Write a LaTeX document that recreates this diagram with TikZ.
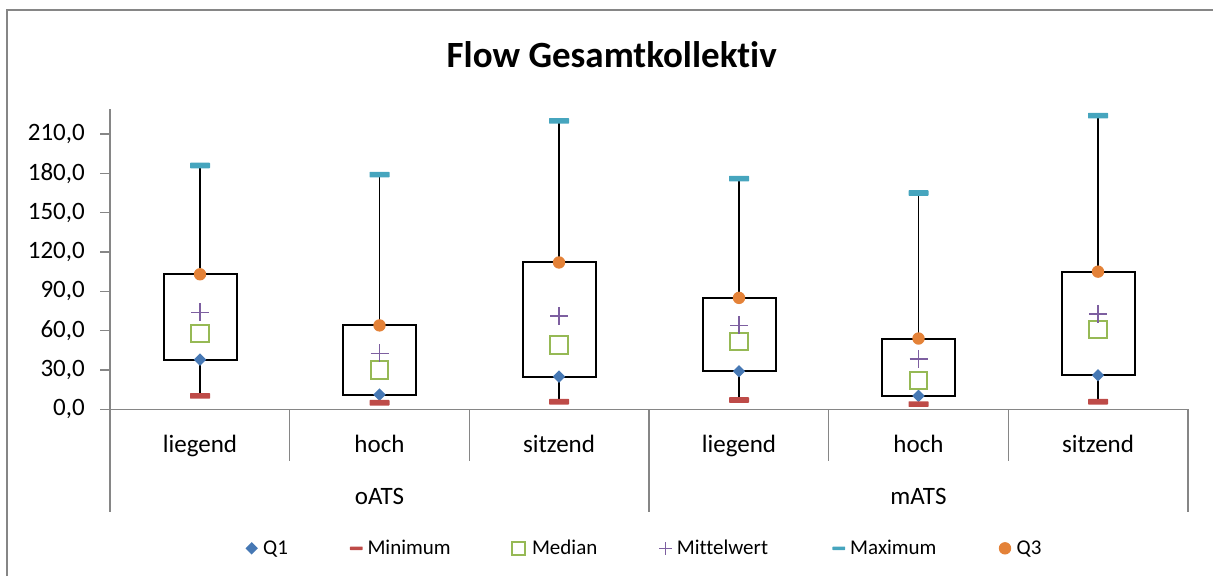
\documentclass[tikz,border=0pt]{standalone}
\usepackage{fontspec}
\setmainfont{Carlito}[Ligatures=NoCommon]
\definecolor{axisgray}{RGB}{134,134,134}
\definecolor{qone}{RGB}{70,120,180}
\definecolor{minred}{RGB}{190,75,72}
\definecolor{medgreen}{RGB}{150,185,85}
\definecolor{meanpurple}{RGB}{125,95,160}
\definecolor{maxteal}{RGB}{70,165,190}
\definecolor{qthree}{RGB}{228,130,56}
\tikzset{axisline/.style={draw=axisgray,line width=1.6pt},
 lbl/.style={font=\fontsize{25}{30}\selectfont,inner sep=0pt},
 leg/.style={font=\fontsize{21}{25}\selectfont,inner sep=0pt,anchor=base west},
 whisk/.style={line width=1.8pt},
 boxq/.style={draw=black,line width=2pt},
 qonemark/.pic={\fill[qone] (0,-6.2)--(6.2,0)--(0,6.2)--(-6.2,0)--cycle;},
 minmark/.pic={\fill[minred,rounded corners=0.6pt] (-10,-2.8) rectangle (10,2.8);},
 medmark/.pic={\draw[medgreen,line width=2pt,fill=white] (-8.6,-8.6) rectangle (8.6,8.6);},
 meanmark/.pic={\draw[meanpurple,line width=1.5pt] (-9,0)--(9,0) (0,-9)--(0,9);},
 maxmark/.pic={\fill[maxteal,rounded corners=0.6pt] (-10,-2.8) rectangle (10,2.8);},
 qthreemark/.pic={\fill[qthree] (0,0) circle (6.2);}}
\begin{document}
\begin{tikzpicture}[x=1pt,y=-1pt]
\useasboundingbox (0,0) rectangle (1213,576);
\draw[axisline] (6.7,576)--(6.7,9.7)--(1213,9.7);

\node[font=\fontsize{37}{44}\selectfont\bfseries,inner sep=0pt,anchor=base] (title) at (611.7,67) {Flow Gesamtkollekt\kern0pt iv};

% value axis
\draw[axisline] (110,109.3)--(110,409.3);
\foreach \v in {0,30,...,210}{
  \pgfmathsetmacro\yy{409.3-1.311*\v}
  \draw[axisline] (100,\yy)--(110,\yy);
  \node[lbl,anchor=east] (tick\v) at (85,\yy) {\v,0};
}

% category axis
\draw[axisline] (100,409.3)--(1188,409.3);
\foreach \k in {1,2,4,5}
  \draw[axisline] (110+179.67*\k,409.3)--(110+179.67*\k,460.7);
\foreach \k in {0,3,6}
  \draw[axisline] (110+179.67*\k,409.3)--(110+179.67*\k,512);
\foreach \cx/\name [count=\i] in {200/liegend,379.5/hoch,559/sitzend,739/liegend,918.5/hoch,1098/sitzend}
  \node[lbl,anchor=base] (cat\i) at (\cx,452.3) {\name};
\node[lbl,anchor=base] (oats) at (379.5,504.3) {oATS};
\node[lbl,anchor=base] (mats) at (918.5,504.3) {mATS};

% boxes
\foreach \cx/\mn/\qa/\md/\mw/\qb/\mx in {200/10.2/37.9/58/74/103/186,
    379.5/5/11.2/30/42.7/64/179,559/5.8/24.9/49/71/112/220,
    739/7.1/29/52/64/85/176,918.5/4/10.2/21.8/38.4/54/165,
    1098/5.8/26/61/72.7/105/224}{
  \pgfmathsetmacro\ymn{409.3-1.311*\mn}
  \pgfmathsetmacro\yqa{409.3-1.311*\qa}
  \pgfmathsetmacro\ymd{409.3-1.311*\md}
  \pgfmathsetmacro\ymw{409.3-1.311*\mw}
  \pgfmathsetmacro\yqb{409.3-1.311*\qb}
  \pgfmathsetmacro\ymx{409.3-1.311*\mx}
  \draw[boxq] (\cx-36.5,\yqa) rectangle (\cx+36.5,\yqb);
  \draw[whisk] (\cx,\ymn)--(\cx,\yqa) (\cx,\yqb)--(\cx,\ymx);
  \pic at (\cx,\yqa) {qonemark};
  \pic at (\cx,\ymn) {minmark};
  \pic at (\cx,\ymd) {medmark};
  \pic at (\cx,\ymw) {meanmark};
  \pic at (\cx,\ymx) {maxmark};
  \pic at (\cx,\yqb) {qthreemark};
}

% legend
\pic at (251.7,548.3) {qonemark};
\node[leg] (lq1) at (263,554) {Q1};
\pic[scale=0.64] at (356.3,548.3) {minmark};
\node[leg] (lmin) at (367.3,554) {Minimum};
\pic[scale=0.75] at (518.8,548.3) {medmark};
\node[leg] (lmed) at (531.8,554) {Median};
\pic[scale=0.7] at (665.7,548.3) {meanmark};
\node[leg] (lmw) at (676.6,554) {Mittelwert};
\pic[scale=0.64] at (838.8,548.3) {maxmark};
\node[leg] (lmax) at (850,554) {Maximum};
\pic at (1005,548.3) {qthreemark};
\node[leg] (lq3) at (1016.5,554) {Q3};
\end{tikzpicture}
\end{document}
